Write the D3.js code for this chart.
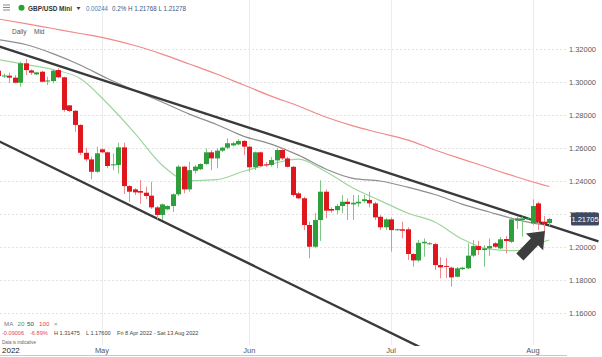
<!DOCTYPE html>
<html><head><meta charset="utf-8">
<script src="https://cdn.jsdelivr.net/npm/d3@7"></script>
<style>
body{margin:0;background:#fff;}
svg{display:block;font-family:"Liberation Sans",Arial,sans-serif;}
</style>
</head><body>
<svg id="chart" width="602" height="357"></svg>
<script>
// ---------- DATA ----------
const startDate = "2022-04-08";           // first candle (FX chart incl. Sunday sessions, no Saturdays)
const openP  = [1.3070,1.3035,1.3040,1.3028,1.2997,1.3115,1.3072,1.3048,1.3064,1.3008,
                1.3007,1.3074,1.3030,1.2860,1.2827,1.2741,1.2572,1.2532,1.2457,1.2593,
                1.2575,1.2496,1.2498,1.2605,1.2370,1.2350,1.2340,1.2330,1.2312,1.2241,
                1.2195,1.2229,1.2249,1.2320,1.2488,1.2350,1.2463,1.2472,1.2504,1.2575,
                1.2538,1.2585,1.2603,1.2617,1.2623,1.2644,1.2609,1.2484,1.2575,1.2502,
                1.2498,1.2526,1.2589,1.2538,1.2487,1.2326,1.2296,1.2134,1.2002,1.2164,
                1.2336,1.2231,1.2224,1.2249,1.2275,1.2259,1.2265,1.2279,1.2286,1.2265,
                1.2184,1.2120,1.2168,1.2105,1.2108,1.2108,1.1958,1.1919,1.2023,1.2020,
                1.2018,1.1891,1.1886,1.1875,1.1820,1.1866,1.1871,1.1948,1.2006,1.1982,
                1.1992,1.2023,1.1992,1.2049,1.2032,1.2160,1.2164,1.2172,1.2144,1.2265,
                1.2154,1.2146];
const highP  = [1.3080,1.3053,1.3058,1.3044,1.3125,1.3141,1.3078,1.3064,1.3070,1.3034,
                1.3078,1.3085,1.3034,1.2862,1.2831,1.2745,1.2601,1.2548,1.2609,1.2599,
                1.2579,1.2569,1.2633,1.2633,1.2376,1.2358,1.2407,1.2366,1.2397,1.2249,
                1.2265,1.2253,1.2326,1.2498,1.2492,1.2518,1.2498,1.2508,1.2599,1.2589,
                1.2599,1.2609,1.2660,1.2639,1.2656,1.2649,1.2613,1.2579,1.2579,1.2516,
                1.2546,1.2599,1.2599,1.2548,1.2492,1.2336,1.2306,1.2154,1.2207,1.2405,
                1.2350,1.2241,1.2261,1.2316,1.2296,1.2316,1.2316,1.2316,1.2336,1.2275,
                1.2194,1.2175,1.2180,1.2112,1.2154,1.2120,1.1962,1.2043,1.2053,1.2030,
                1.2026,1.1938,1.1935,1.1881,1.1879,1.1880,1.2023,1.2043,1.2038,1.2012,
                1.2053,1.2030,1.2061,1.2067,1.2182,1.2184,1.2184,1.2180,1.2290,1.2275,
                1.2188,1.21768];
const lowP   = [1.3026,1.3026,1.2995,1.2994,1.2973,1.3044,1.3044,1.3044,1.2999,1.2983,
                1.2994,1.3024,1.2821,1.2819,1.2700,1.2558,1.2518,1.2411,1.2450,1.2571,
                1.2478,1.2467,1.2447,1.2322,1.2275,1.2316,1.2261,1.2290,1.2231,1.2168,
                1.2164,1.2225,1.2214,1.2310,1.2326,1.2336,1.2447,1.2467,1.2498,1.2467,
                1.2478,1.2578,1.2593,1.2611,1.2617,1.2558,1.2457,1.2467,1.2484,1.2486,
                1.2488,1.2478,1.2528,1.2484,1.2305,1.2290,1.2103,1.1932,1.1994,1.2037,
                1.2175,1.2208,1.2200,1.2205,1.2164,1.2164,1.2245,1.2269,1.2241,1.2164,
                1.2103,1.2103,1.1972,1.2100,1.2053,1.1921,1.1881,1.1911,1.1941,1.2015,
                1.1861,1.1810,1.1812,1.1760,1.1816,1.1861,1.1867,1.1939,1.1952,1.1881,
                1.1946,1.1995,1.1988,1.1962,1.2025,1.2110,1.2063,1.2168,1.2134,1.2103,
                1.2093,1.21278];
const closeP = [1.3038,1.3041,1.3028,1.2997,1.3115,1.3074,1.3058,1.3060,1.3003,1.3011,
                1.3070,1.3030,1.2832,1.2826,1.2741,1.2572,1.2532,1.2457,1.2569,1.2575,
                1.2492,1.2502,1.2605,1.2370,1.2336,1.2332,1.2330,1.2310,1.2241,1.2195,
                1.2259,1.2249,1.2320,1.2488,1.2350,1.2467,1.2488,1.2504,1.2575,1.2538,
                1.2585,1.2603,1.2630,1.2630,1.2644,1.2609,1.2484,1.2575,1.2492,1.2496,
                1.2528,1.2589,1.2538,1.2487,1.2316,1.2296,1.2134,1.2002,1.2164,1.2336,
                1.2221,1.2221,1.2249,1.2275,1.2261,1.2269,1.2275,1.2290,1.2265,1.2180,
                1.2120,1.2168,1.2103,1.2108,1.2099,1.1958,1.1919,1.2026,1.2032,1.2023,
                1.1891,1.1877,1.1880,1.1816,1.1871,1.1875,1.1948,1.2006,1.1982,1.1992,
                1.2006,1.2002,1.2047,1.2037,1.2168,1.2174,1.2174,1.2175,1.2249,1.2154,
                1.2140,1.21705];

// moving averages at candle positions
const maIndex = [0,5,10,15,20,25,30,35,40,45,50,55,60,65,70,75,80,85,90,95,100,101];
const ma20  = [1.3138,1.3108,1.3077,1.3023,1.2871,1.2692,1.2498,1.2402,1.2409,1.2460,1.2504,
               1.2534,1.2458,1.2358,1.2282,1.2207,1.2152,1.2049,1.1987,1.1978,1.2033,1.2043];
const ma50  = [1.3259,1.3229,1.3174,1.3105,1.3023,1.2950,1.2880,1.2807,1.2744,1.2672,1.2625,
               1.2558,1.2474,1.2417,1.2401,1.2364,1.2319,1.2261,1.2213,1.2167,1.2134,1.2128];
const ma100 = [1.3384,1.3356,1.3326,1.3296,1.3265,1.3223,1.3171,1.3111,1.3050,1.2983,1.2916,
               1.2856,1.2789,1.2735,1.2692,1.2650,1.2589,1.2534,1.2480,1.2425,1.2376,1.2367];

// trend channel (candle index, price)
const upperTrendIdx = [0,110], upperTrendPrice = [1.3219,1.2035];
const lowerTrendIdx = [0,80],  lowerTrendPrice = [1.2644,1.1349];
// arrow annotation (candle index, price): tip, tail
const arrowIdx = [100.2, 95.6], arrowPrice = [1.2097, 1.1940];

const yTicks = [1.16,1.18,1.20,1.22,1.24,1.26,1.28,1.30,1.32];
const lastPrice = 1.21705;
const monthNames = ["May","Jun","Jul","Aug"];

// ---------- SETUP ----------
const svg = d3.select("#chart");
const W = 602, H = 357;
const parse = d3.timeParse("%Y-%m-%d");
const dates = [];
{ let d = parse(startDate);
  while (dates.length < closeP.length) { if (d.getDay() !== 6) dates.push(d); d = d3.timeDay.offset(d, 1); } }

const x = d3.scaleLinear().domain([0, 110]).range([-1.7, -1.7 + 5.456 * 110]);
const y = d3.scaleLinear().domain([1.16, 1.32]).range([313.0, 49.3]);

const candles = closeP.map((c, i) => ({i, o: openP[i], h: highP[i], l: lowP[i], c, date: dates[i]}));

const defs = svg.append("defs");
defs.append("clipPath").attr("id", "plot").append("rect").attr("x", 0).attr("y", 0).attr("width", W).attr("height", 346);

// grid
const grid = svg.append("g");
grid.selectAll("line.h").data(yTicks).join("line")
  .attr("x1", 0).attr("x2", 567).attr("y1", d => Math.round(y(d)) + 0.5).attr("y2", d => Math.round(y(d)) + 0.5)
  .attr("stroke", "#e3e3e3").attr("stroke-width", 1).attr("stroke-dasharray", "2,2");

const monthStarts = [];
dates.forEach((d, i) => { if (i > 0 && d.getMonth() !== dates[i - 1].getMonth()) monthStarts.push(i); });
grid.selectAll("line.v").data(monthStarts).join("line")
  .attr("x1", d => Math.round(x(d)) + 0.5).attr("x2", d => Math.round(x(d)) + 0.5)
  .attr("y1", 0).attr("y2", 345).attr("stroke", "#ececec");

const plot = svg.append("g").attr("clip-path", "url(#plot)");

// MAs
const maLine = arr => d3.line().x((d, k) => x(maIndex[k])).y(d => y(d)).curve(d3.curveMonotoneX)(arr);
plot.append("path").attr("d", maLine(ma100)).attr("fill", "none").attr("stroke", "#f08a8a").attr("stroke-width", 1.2);
plot.append("path").attr("d", maLine(ma50)).attr("fill", "none").attr("stroke", "#8e8e8e").attr("stroke-width", 1.2);
plot.append("path").attr("d", maLine(ma20)).attr("fill", "none").attr("stroke", "#9ed59e").attr("stroke-width", 1.2);

// trend lines
const tl = (ix, pr) => d3.line().x((d, k) => x(ix[k])).y(d => y(d))(pr);
plot.append("path").attr("d", tl(upperTrendIdx, upperTrendPrice)).attr("stroke", "#3a3a3a").attr("stroke-width", 2.4).attr("fill", "none");
plot.append("path").attr("d", tl(lowerTrendIdx, lowerTrendPrice)).attr("stroke", "#3a3a3a").attr("stroke-width", 2.4).attr("fill", "none");

// candles
const up = "#2f9e3c", dn = "#e0161e";
const cg = plot.append("g");
cg.selectAll("line.w").data(candles).join("line")
  .attr("x1", d => Math.round(x(d.i)) + 0.5).attr("x2", d => Math.round(x(d.i)) + 0.5)
  .attr("y1", d => y(d.h)).attr("y2", d => y(d.l))
  .attr("stroke", d => d.c >= d.o ? "#7cc884" : "#f18a8e").attr("stroke-width", 1);
cg.selectAll("rect").data(candles).join("rect")
  .attr("x", d => Math.round(x(d.i)) - 2).attr("width", 5)
  .attr("y", d => y(Math.max(d.o, d.c)))
  .attr("height", d => Math.max(1, Math.abs(y(d.o) - y(d.c))))
  .attr("fill", d => d.c >= d.o ? up : dn);

// arrow
{
  const tx = x(arrowIdx[0]), ty = y(arrowPrice[0]), bx = x(arrowIdx[1]), by = y(arrowPrice[1]);
  const L = Math.hypot(tx - bx, ty - by), ux = (tx - bx) / L, uy = (ty - by) / L, px = -uy, py = ux;
  const headL = 15, headW = 12, shaftW = 5;
  const hx = tx - ux * headL, hy = ty - uy * headL;
  const pts = [[tx, ty], [hx + px * headW, hy + py * headW], [hx + px * shaftW, hy + py * shaftW],
               [bx + px * shaftW, by + py * shaftW], [bx - px * shaftW, by - py * shaftW],
               [hx - px * shaftW, hy - py * shaftW], [hx - px * headW, hy - py * headW]];
  svg.append("polygon").attr("points", pts.map(p => p.join(",")).join(" ")).attr("fill", "#3d3d3d");
}

// y axis labels (the 1.22000 label sits under the live-price tag, as in the original)
const yl = svg.append("g").attr("font-size", 7.5).attr("fill", "#5a5a5a");
yl.selectAll("text").data(yTicks).join("text")
  .attr("x", 596).attr("y", d => y(d) + 2.5).attr("text-anchor", "end")
  .text(d => d3.format(".5f")(d));

// price label
const py0 = y(lastPrice);
svg.append("rect").attr("x", 571).attr("y", py0 - 6.5).attr("width", 28).attr("height", 13).attr("rx", 1.5).attr("fill", "#3e4a62");
svg.append("text").attr("x", 585).attr("y", py0 + 2.6).attr("text-anchor", "middle").attr("font-size", 7.5).attr("fill", "#fff").text(d3.format(".5f")(lastPrice));

// x axis labels
const xl = svg.append("g").attr("font-size", 7.5).attr("fill", "#555");
xl.append("text").attr("x", 2).attr("y", 353).attr("fill", "#222").attr("font-size", 8).text(dates[0].getFullYear());
xl.selectAll("text.m").data(monthStarts).join("text").attr("class", "m")
  .attr("x", d => x(d)).attr("y", 353).attr("text-anchor", "middle").text((d, k) => monthNames[k]);
svg.append("line").attr("x1", 0).attr("x2", 567).attr("y1", 355.5).attr("y2", 355.5).attr("stroke", "#c8c8c8");

// header
const hd = svg.append("g");
[5, 7.5, 10].forEach(v => hd.append("line").attr("x1", 3).attr("x2", 10).attr("y1", v).attr("y2", v).attr("stroke", "#8a8a8a").attr("stroke-width", 1));
hd.append("circle").attr("cx", 21.5).attr("cy", 7.8).attr("r", 3).attr("fill", "#27a336");
hd.append("text").attr("x", 28).attr("y", 10.8).attr("font-size", 8).attr("font-weight", 600).attr("fill", "#333")
  .attr("textLength", 44).attr("lengthAdjust", "spacingAndGlyphs").text("GBP/USD Mini");
hd.append("path").attr("d", "M76.5,7 L80.5,7 L78.5,10 Z").attr("fill", "#444");
hd.append("text").attr("x", 86).attr("y", 10.5).attr("font-size", 7).attr("fill", "#4a78b0")
  .attr("textLength", 22).attr("lengthAdjust", "spacingAndGlyphs").text("0.00244");
hd.append("text").attr("x", 112).attr("y", 10.5).attr("font-size", 7).attr("fill", "#40567a")
  .attr("textLength", 74).attr("lengthAdjust", "spacingAndGlyphs").text("0.2% H 1.21768 L 1.21278");
hd.append("text").attr("x", 12).attr("y", 34).attr("font-size", 6.5).attr("fill", "#555").text("Daily");
hd.append("text").attr("x", 34).attr("y", 34).attr("font-size", 6.5).attr("fill", "#555").text("Mid");

// legend (bottom-left)
const lg = svg.append("g").attr("font-size", 6.2);
lg.append("text").attr("x", 4).attr("y", 326).attr("fill", "#777").text("MA");
lg.append("text").attr("x", 17.5).attr("y", 326).attr("fill", "#3aa34a").text("20");
lg.append("text").attr("x", 27).attr("y", 326).attr("fill", "#444").text("50");
lg.append("text").attr("x", 39).attr("y", 326).attr("fill", "#e4454a").text("100");
lg.append("text").attr("x", 54).attr("y", 326).attr("fill", "#888").text("×");
const l2 = svg.append("g").attr("font-size", 5.6);
l2.append("text").attr("x", 2).attr("y", 335).attr("fill", "#e4454a").text("-0.09006");
l2.append("text").attr("x", 30).attr("y", 335).attr("fill", "#e4454a").text("-6.89%");
l2.append("text").attr("x", 54).attr("y", 335).attr("fill", "#444").text("H 1.31475");
l2.append("text").attr("x", 86).attr("y", 335).attr("fill", "#444").text("L 1.17600");
l2.append("text").attr("x", 117).attr("y", 335).attr("fill", "#444").text("Fri 8 Apr 2022 - Sat 13 Aug 2022");
svg.append("text").attr("x", 2).attr("y", 344).attr("font-size", 4.5).attr("fill", "#666").text("Data is indicative");
</script>
</body></html>
